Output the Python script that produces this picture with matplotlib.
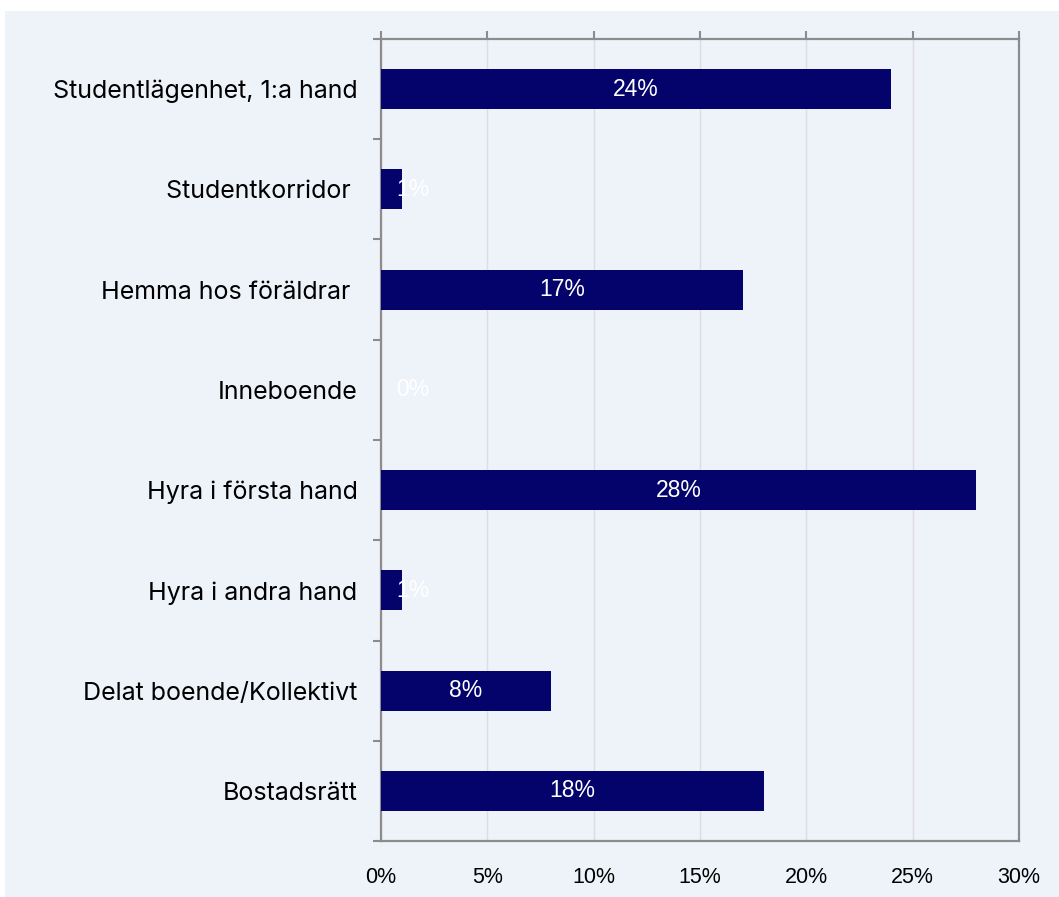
import matplotlib
matplotlib.use('Agg')
import matplotlib.pyplot as plt
from matplotlib.patches import Rectangle
from matplotlib.ticker import FixedLocator, PercentFormatter

categories = [
    "Studentlägenhet, 1:a hand",
    "Studentkorridor ",
    "Hemma hos föräldrar ",
    "Inneboende",
    "Hyra i första hand",
    "Hyra i andra hand",
    "Delat boende/Kollektivt",
    "Bostadsrätt",
]
values = [24, 1, 17, 0, 28, 1, 8, 18]
x_ticks = [0, 5, 10, 15, 20, 25, 30]

W, H = 1059, 897
bar_color = '#03036B'
panel_color = '#EEF3FA'
spine_color = '#8C8C8C'

fig = plt.figure(figsize=(W / 100, H / 100), dpi=100, facecolor='white')

# light panel behind the chart
fig.patches.append(Rectangle((5 / W, 0), 1 - 5 / W, 1 - 11 / H,
                             transform=fig.transFigure, facecolor=panel_color,
                             edgecolor='none', zorder=-10))

ax = fig.add_axes([381 / W, 1 - 841 / H, (1019 - 381) / W, (841 - 39) / H])
ax.set_zorder(5)
ax.set_facecolor(panel_color)

y = list(range(len(categories)))
ax.barh(y, values, height=0.4, color=bar_color, zorder=3)

for yi, v in zip(y, values):
    ax.text(v / 2 if v > 2 else 1.5, yi, f"{v}%", ha='center', va='center',
            color='white', fontsize=16.5, family='Liberation Sans', zorder=4)

ax.set_xlim(0, 30)
ax.set_ylim(len(categories) - 0.5, -0.5)

ax.xaxis.set_major_locator(FixedLocator(x_ticks))
ax.xaxis.set_major_formatter(PercentFormatter(decimals=0))
ax.tick_params(axis='x', top=True, bottom=False, labeltop=False, labelbottom=True,
               direction='out', length=6, width=1.5, color=spine_color,
               pad=13, labelsize=15.5)
for lbl in ax.get_xticklabels():
    lbl.set_family('Liberation Sans')

ax.set_yticks(y)
ax.set_yticklabels(categories, family='Inter', fontsize=18)
ax.set_yticks([i - 0.5 for i in range(len(categories) + 1)], minor=True)
ax.tick_params(axis='y', which='major', length=0, pad=17)
ax.tick_params(axis='y', which='minor', length=6, width=1.5, color=spine_color,
               direction='out')

ax.grid(axis='x', color='#DEDEDE', linewidth=1, zorder=0)
for s in ax.spines.values():
    s.set_color(spine_color)
    s.set_linewidth(1.6)

fig.savefig('out.png', dpi=100, facecolor='white')
